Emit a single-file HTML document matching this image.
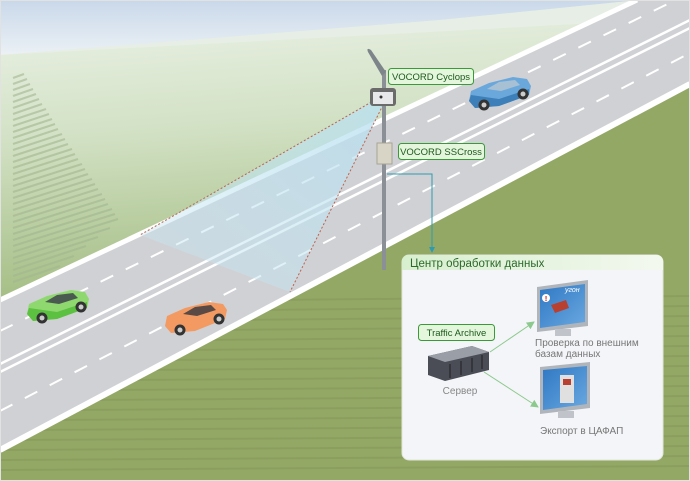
<!DOCTYPE html>
<html><head><meta charset="utf-8">
<style>
html,body{margin:0;padding:0;background:#fff;}
svg{display:block;}
text{font-family:"Liberation Sans","DejaVu Sans",sans-serif;}
</style></head>
<body>
<svg width="690" height="481" viewBox="0 0 690 481" xmlns="http://www.w3.org/2000/svg">
<defs>
<linearGradient id="sky" x1="0" y1="0" x2="0" y2="1">
<stop offset="0" stop-color="#c9d8ea"/><stop offset="1" stop-color="#eef3f6"/>
</linearGradient>
<linearGradient id="field" x1="0" y1="0" x2="0.15" y2="1">
<stop offset="0" stop-color="#eef3ea"/><stop offset="0.45" stop-color="#d3e2c6"/><stop offset="1" stop-color="#a4bd83"/>
</linearGradient>
<linearGradient id="hdr" x1="0" y1="0" x2="1" y2="0">
<stop offset="0" stop-color="#d8efcf"/><stop offset="1" stop-color="#f3f8ef"/>
</linearGradient>
<linearGradient id="scr" x1="0" y1="0" x2="1" y2="1">
<stop offset="0" stop-color="#2f78c4"/><stop offset="1" stop-color="#6aa8e0"/>
</linearGradient>
<linearGradient id="beam" x1="1" y1="0" x2="0" y2="1">
<stop offset="0" stop-color="#b8e0f0" stop-opacity="0.8"/><stop offset="1" stop-color="#c8e6f2" stop-opacity="0.35"/>
</linearGradient>
<marker id="ah" markerWidth="8" markerHeight="8" refX="7" refY="4" orient="auto" markerUnits="userSpaceOnUse">
<path d="M0,0 L8,4 L0,8 z" fill="#8cc98c"/></marker>
</defs>
<rect width="690" height="481" fill="#94a866"/>
<!-- sky + upper field -->
<rect x="0" y="0" width="690" height="60" fill="url(#sky)"/>
<polygon points="0,55 690,15 690,40 0,320" fill="url(#field)"/>
<polygon points="0,55 440,20 640,0 0,298" fill="url(#field)"/>
<polygon points="0,55 690,18 690,0 640,0 440,20" fill="#e6eee6"/>
<!-- stripes on upper-left field -->
<g stroke="#a3b690" stroke-width="2.2" opacity="0.6">
<line x1="13" y1="78" x2="24" y2="74"/><line x1="13" y1="84" x2="27" y2="79"/><line x1="13" y1="90" x2="30" y2="84"/>
<line x1="13" y1="96" x2="33" y2="89"/><line x1="13" y1="102" x2="36" y2="94"/><line x1="13" y1="108" x2="39" y2="99"/>
<line x1="13" y1="114" x2="42" y2="104"/><line x1="13" y1="120" x2="46" y2="109"/><line x1="13" y1="126" x2="49" y2="114"/>
<line x1="13" y1="132" x2="52" y2="119"/><line x1="13" y1="138" x2="55" y2="124"/><line x1="13" y1="144" x2="58" y2="129"/>
<line x1="13" y1="150" x2="62" y2="134"/><line x1="13" y1="156" x2="65" y2="139"/><line x1="13" y1="162" x2="68" y2="144"/>
<line x1="13" y1="168" x2="72" y2="149"/><line x1="13" y1="174" x2="75" y2="154"/><line x1="13" y1="180" x2="78" y2="159"/>
<line x1="13" y1="186" x2="82" y2="164"/><line x1="13" y1="192" x2="85" y2="169"/><line x1="13" y1="198" x2="88" y2="174"/>
<line x1="13" y1="204" x2="92" y2="179"/><line x1="13" y1="210" x2="95" y2="184"/><line x1="13" y1="216" x2="98" y2="189"/>
<line x1="13" y1="222" x2="102" y2="194"/><line x1="13" y1="228" x2="105" y2="199"/><line x1="13" y1="234" x2="108" y2="204"/>
<line x1="13" y1="240" x2="112" y2="209"/><line x1="13" y1="246" x2="115" y2="214"/><line x1="13" y1="252" x2="118" y2="219"/>
<line x1="13" y1="258" x2="110" y2="228"/><line x1="13" y1="264" x2="98" y2="237"/><line x1="13" y1="270" x2="86" y2="246"/>
<line x1="13" y1="276" x2="74" y2="256"/><line x1="13" y1="282" x2="60" y2="266"/>
</g>
<!-- lower field stripes -->
<g stroke="#86995a" stroke-width="2" opacity="0.6">
<line x1="270" y1="300" x2="690" y2="296"/><line x1="250" y1="310" x2="690" y2="306"/><line x1="230" y1="320" x2="690" y2="316"/>
<line x1="212" y1="330" x2="690" y2="326"/><line x1="194" y1="340" x2="690" y2="336"/><line x1="176" y1="350" x2="690" y2="346"/>
<line x1="158" y1="360" x2="690" y2="356"/><line x1="140" y1="370" x2="690" y2="366"/><line x1="122" y1="380" x2="690" y2="376"/>
<line x1="104" y1="390" x2="690" y2="386"/><line x1="86" y1="400" x2="690" y2="396"/><line x1="68" y1="410" x2="690" y2="406"/>
<line x1="50" y1="420" x2="690" y2="416"/><line x1="32" y1="430" x2="690" y2="426"/><line x1="14" y1="440" x2="690" y2="436"/>
<line x1="0" y1="450" x2="690" y2="446"/><line x1="0" y1="460" x2="690" y2="456"/><line x1="0" y1="470" x2="690" y2="466"/>
</g>
<!-- road -->
<polygon points="0,298 633,0 690,0 690,86 0,452" fill="#d0d1d4"/>
<line x1="0" y1="300" x2="637" y2="0" stroke="#fff" stroke-width="5"/>
<line x1="0" y1="450" x2="690" y2="84" stroke="#fff" stroke-width="6"/>
<line x1="0" y1="364" x2="690" y2="20" stroke="#fff" stroke-width="2.5"/>
<line x1="0" y1="372" x2="690" y2="28" stroke="#fff" stroke-width="2.5"/>
<line x1="0" y1="331" x2="690" y2="-7" stroke="#fff" stroke-width="2" stroke-dasharray="14,14"/>
<line x1="0" y1="411" x2="690" y2="53" stroke="#fff" stroke-width="2" stroke-dasharray="14,14"/>
<!-- beam -->
<polygon points="375,100 140,235 290,292 383,105" fill="url(#beam)"/>
<line x1="375" y1="100" x2="140" y2="235" stroke="#c0604a" stroke-width="1" stroke-dasharray="2,2"/>
<line x1="383" y1="105" x2="290" y2="292" stroke="#c0604a" stroke-width="1" stroke-dasharray="2,2"/>
<!-- cars -->
<g transform="translate(25,288)">
<path d="M2,26 L4,16 L22,8 L46,2 L60,4 L64,11 L62,20 L32,31 L8,33 Z" fill="#8fd870"/>
<path d="M2,26 L4,20 L32,24 L62,14 L62,20 L32,31 L8,33 Z" fill="#5cc040"/>
<path d="M20,14 L32,7 L48,5 L53,10 L34,16 Z" fill="#4b5a50"/>
<circle cx="17" cy="30" r="5.5" fill="#333"/><circle cx="17" cy="30" r="2.5" fill="#ccc"/>
<circle cx="56" cy="19" r="5.5" fill="#333"/><circle cx="56" cy="19" r="2.5" fill="#ccc"/>
</g>
<g transform="translate(163,300)">
<path d="M2,26 L4,16 L22,8 L46,2 L60,4 L64,10 L62,19 L32,31 L8,33 Z" fill="#f39a62"/>
<path d="M20,14 L32,7 L48,5 L53,10 L34,16 Z" fill="#5a4a45"/>
<circle cx="17" cy="30" r="5.5" fill="#333"/><circle cx="17" cy="30" r="2.5" fill="#ccc"/>
<circle cx="56" cy="19" r="5.5" fill="#333"/><circle cx="56" cy="19" r="2.5" fill="#ccc"/>
</g>
<g transform="translate(467,75)">
<path d="M2,26 L4,16 L22,8 L46,2 L60,4 L64,11 L62,20 L32,31 L8,33 Z" fill="#6aa8dc"/>
<path d="M2,26 L4,20 L32,24 L62,14 L62,20 L32,31 L8,33 Z" fill="#3d7fb8"/>
<path d="M20,14 L32,7 L48,5 L53,10 L34,16 Z" fill="#a8c0d4"/>
<circle cx="17" cy="30" r="5.5" fill="#333"/><circle cx="17" cy="30" r="2.5" fill="#ccc"/>
<circle cx="56" cy="19" r="5.5" fill="#333"/><circle cx="56" cy="19" r="2.5" fill="#ccc"/>
</g>
<!-- pole -->
<rect x="382" y="70" width="4" height="200" fill="#8a9096"/>
<path d="M368,52 Q366,47 371,50 L386,72 L382,76 Z" fill="#7d848a"/>
<rect x="370" y="88" width="26" height="18" rx="3" fill="#6b6b6b"/>
<rect x="373" y="92" width="20" height="12" fill="#e8e8ea"/>
<circle cx="381" cy="97" r="1.5" fill="#333"/>
<rect x="377" y="143" width="15" height="21" fill="#d8d4c6" stroke="#a8a496"/>
<!-- cyan connector -->
<polyline points="387,174 432,174 432,250" fill="none" stroke="#2e9cb0" stroke-width="1"/>
<path d="M429,247 L435,247 L432,253 Z" fill="#2e9cb0"/>
<!-- labels -->
<rect x="388.5" y="68.5" width="85" height="16" rx="3" fill="#e4f6dc" stroke="#3a9a3a"/>
<text x="431" y="80" font-size="9.5" fill="#1c5a1c" text-anchor="middle">VOCORD Cyclops</text>
<rect x="398.5" y="143.5" width="86" height="16" rx="3" fill="#e4f6dc" stroke="#3a9a3a"/>
<text x="441" y="155" font-size="9.5" fill="#1c5a1c" text-anchor="middle">VOCORD SSCross</text>
<!-- panel -->
<rect x="402" y="255" width="261" height="205" rx="7" fill="#f3f5f8" stroke="#dfe6da"/>
<path d="M409,255 H656 Q663,255 663,262 V270 H402 V262 Q402,255 409,255 Z" fill="url(#hdr)"/>
<text x="410" y="267" font-size="11.5" fill="#2b6a2b">Центр обработки данных</text>
<rect x="418.5" y="324.5" width="76" height="16" rx="3" fill="#e4f6dc" stroke="#3a9a3a"/>
<text x="456.5" y="336" font-size="9.5" fill="#1c5a1c" text-anchor="middle">Traffic Archive</text>
<!-- server -->
<path d="M428,356 L472,346 L489,352 L489,370 L445,381 L428,375 Z" fill="#4a4d55"/>
<path d="M428,356 L472,346 L489,352 L445,362 Z" fill="#9a9ea6"/>
<g stroke="#2c2e33" stroke-width="1.5"><line x1="450" y1="364" x2="450" y2="378"/><line x1="461" y1="361" x2="461" y2="375"/><line x1="472" y1="358" x2="472" y2="372"/><line x1="482" y1="355" x2="482" y2="369"/></g>
<text x="460" y="394" font-size="10" fill="#888" text-anchor="middle">Сервер</text>
<line x1="490" y1="352" x2="534" y2="322" stroke="#8cc98c" stroke-width="1" marker-end="url(#ah)"/>
<line x1="484" y1="372" x2="538" y2="407" stroke="#8cc98c" stroke-width="1" marker-end="url(#ah)"/>
<!-- monitor 1 -->
<path d="M537,287 L588,280 L588,326 L537,332 Z" fill="#b0b5bc"/>
<path d="M540,290 L585,284 L585,322 L540,328 Z" fill="url(#scr)"/>
<rect x="555" y="329" width="16" height="7" fill="#c0c4ca"/>
<circle cx="546" cy="298" r="4" fill="#fff"/><text x="546" y="301" font-size="7" fill="#c00" text-anchor="middle" font-weight="bold">!</text>
<path d="M551,305 L566,300 L569,308 L555,313 Z" fill="#b84030"/>
<text x="565" y="292" font-size="7" fill="#fff" font-style="italic">угон</text>
<text x="535" y="346" font-size="10" fill="#777">Проверка по внешним</text>
<text x="535" y="357" font-size="10" fill="#777">базам данных</text>
<!-- monitor 2 -->
<path d="M540,367 L590,362 L590,408 L540,414 Z" fill="#b0b5bc"/>
<path d="M543,370 L587,366 L587,404 L543,410 Z" fill="url(#scr)"/>
<rect x="560" y="375" width="14" height="28" fill="#e0e0e0"/>
<rect x="563" y="379" width="8" height="6" fill="#b84030"/>
<rect x="558" y="411" width="16" height="7" fill="#c0c4ca"/>
<text x="540" y="434" font-size="10" fill="#777">Экспорт в ЦАФАП</text>
<rect x="0.5" y="0.5" width="689" height="480" fill="none" stroke="#e2e2e2"/>
</svg>
</body></html>
